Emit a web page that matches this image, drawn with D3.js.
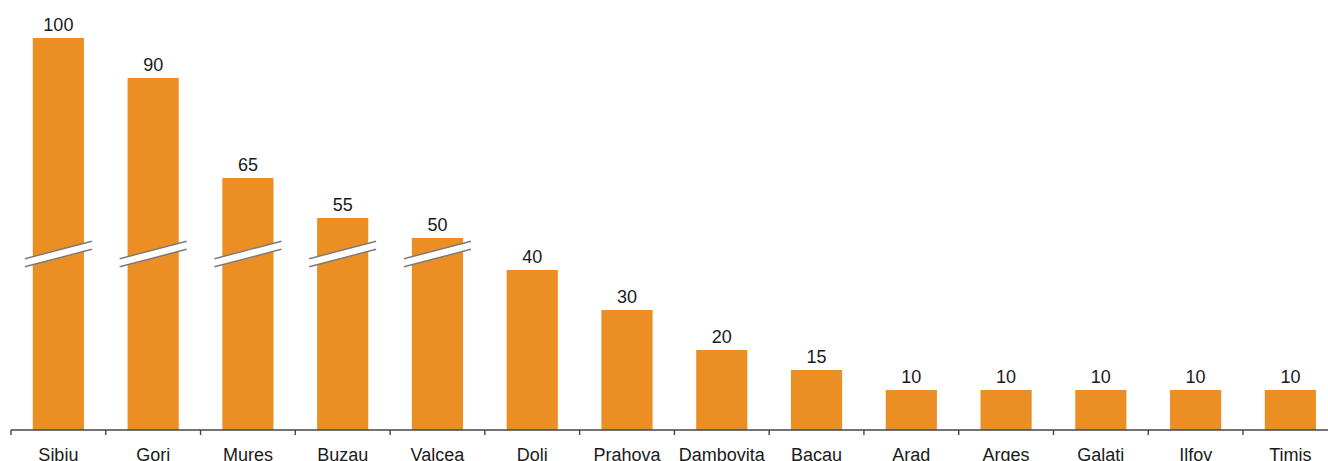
<!DOCTYPE html>
<html>
<head>
<meta charset="utf-8">
<script src="https://cdn.jsdelivr.net/npm/d3@7"></script>
<style>
  html, body { margin: 0; padding: 0; background: #fff; }
  svg { display: block; font-family: "Liberation Sans", Arial, sans-serif; }
</style>
</head>
<body>
<svg id="chart" width="1328" height="461"></svg>
<script>
// Counties and their counts
const categories = ["Sibiu", "Gori", "Mures", "Buzau", "Valcea", "Doli", "Prahova",
                    "Dambovita", "Bacau", "Arad", "Arges", "Galati", "Ilfov", "Timis"];
const values = [100, 90, 65, 55, 50, 40, 30, 20, 15, 10, 10, 10, 10, 10];
const yDomain = [0, 100];
// Bars above this value are drawn with a broken-axis symbol
const breakValue = 44;

const width = 1328, height = 461;
const axisY = 430;
const step = 94.77;
const left = 11;
const barColor = "#EB8F25";
const breakGap = 8;

const svg = d3.select("#chart");

const x = d3.scaleBand()
  .domain(categories)
  .range([left, left + step * categories.length])
  .paddingInner(0.46)
  .paddingOuter(0.23);

const y = d3.scaleLinear().domain(yDomain).range([axisY, 30]);

const data = categories.map((c, i) => ({ cat: c, value: values[i], broken: values[i] > breakValue }));

// bar top: broken bars lose the height of the break gap
const barTop = d => d.broken ? y(d.value) + breakGap : y(d.value);

svg.append("g")
  .selectAll("rect")
  .data(data)
  .join("rect")
  .attr("x", d => x(d.cat))
  .attr("y", d => barTop(d))
  .attr("width", x.bandwidth())
  .attr("height", d => axisY - barTop(d))
  .attr("fill", barColor);

// break symbols
const breakHalfW = 33.5;
const breakRise = 17.6;
const breakCenter = y(breakValue);
const breaks = svg.append("g")
  .selectAll("g")
  .data(data.filter(d => d.broken))
  .join("g")
  .attr("transform", d => `translate(${x(d.cat) + x.bandwidth() / 2},${breakCenter})`);

breaks.append("path")
  .attr("d", `M${-breakHalfW},${breakRise / 2 - breakGap / 2} L${breakHalfW},${-breakRise / 2 - breakGap / 2} L${breakHalfW},${-breakRise / 2 + breakGap / 2} L${-breakHalfW},${breakRise / 2 + breakGap / 2} Z`)
  .attr("fill", "#fff");
[-1, 1].forEach(s => {
  breaks.append("line")
    .attr("x1", -breakHalfW).attr("y1", breakRise / 2 + s * breakGap / 2)
    .attr("x2", breakHalfW).attr("y2", -breakRise / 2 + s * breakGap / 2)
    .attr("stroke", "#7a7a7a")
    .attr("stroke-width", 1.4);
});

// value labels
svg.append("g")
  .selectAll("text")
  .data(data)
  .join("text")
  .attr("x", d => x(d.cat) + x.bandwidth() / 2)
  .attr("y", d => barTop(d) - 7.5)
  .attr("text-anchor", "middle")
  .attr("font-size", 18)
  .attr("fill", "#1a1a1a")
  .text(d => d.value);

// x axis: baseline, boundary ticks, centred labels
const axis = svg.append("g").attr("transform", `translate(0,${axisY})`);
const xAxis = d3.axisBottom(x).tickSize(0).tickPadding(0);
axis.call(xAxis);
axis.select(".domain").remove();
axis.selectAll(".tick text")
  .attr("y", 31)
  .attr("dy", 0)
  .attr("font-size", 18)
  .attr("font-family", "Liberation Sans, Arial, sans-serif")
  .attr("fill", "#1a1a1a");

axis.append("line")
  .attr("x1", left).attr("x2", width)
  .attr("y1", 0).attr("y2", 0)
  .attr("stroke", "#444").attr("stroke-width", 1.4);

axis.append("g")
  .selectAll("line")
  .data(categories)
  .join("line")
  .attr("x1", d => x(d) - x.step() * x.paddingOuter())
  .attr("x2", d => x(d) - x.step() * x.paddingOuter())
  .attr("y1", 0).attr("y2", 5)
  .attr("stroke", "#444").attr("stroke-width", 1.4);
</script>
</body>
</html>
